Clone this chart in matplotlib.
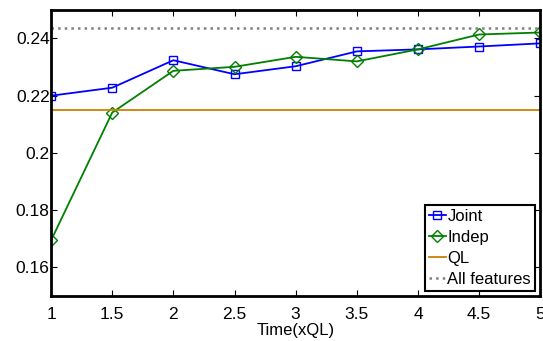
import matplotlib
matplotlib.use('Agg')
import matplotlib.pyplot as plt

plt.rcParams['font.family'] = ['Liberation Sans', 'DejaVu Sans']

times = [1, 1.5, 2, 2.5, 3, 3.5, 4, 4.5, 5]
joint = [0.2200, 0.2228, 0.2324, 0.2275, 0.2303, 0.2355, 0.2362, 0.2372, 0.2383]
indep = [0.1694, 0.2141, 0.2287, 0.2301, 0.2336, 0.2320, 0.2362, 0.2414, 0.2421]
ql = 0.2151
all_features = 0.2435

fig = plt.figure(figsize=(5.43, 3.41), dpi=100)
ax = fig.add_axes([0.094, 0.132, 0.901, 0.839])

ax.plot(times, joint, color='#0000ff', marker='s', markerfacecolor='none', markersize=6, lw=1.3, label='Joint')
ax.plot(times, indep, color='#008000', marker='D', markerfacecolor='none', markersize=6, lw=1.3, label='Indep')
ax.axhline(ql, color='#cc8000', lw=1.3, label='QL')
ax.axhline(all_features, color='#808080', ls=':', lw=1.8, label='All features')

ax.set_xlim(1, 5)
ax.set_ylim(0.15, 0.25)
ax.set_xticks([1, 1.5, 2, 2.5, 3, 3.5, 4, 4.5, 5])
ax.set_xticklabels(['1', '1.5', '2', '2.5', '3', '3.5', '4', '4.5', '5'])
ax.set_yticks([0.16, 0.18, 0.2, 0.22, 0.24])
ax.set_yticklabels(['0.16', '0.18', '0.2', '0.22', '0.24'])
ax.tick_params(direction='in', top=True, right=True, labelsize=12.5, length=4)
ax.tick_params(axis='x', pad=8)
ax.tick_params(axis='y', pad=1)
for s in ax.spines.values():
    s.set_linewidth(2)
ax.set_xlabel('Time(xQL)', fontsize=12, labelpad=1)

leg = ax.legend(loc='lower right', fontsize=12, fancybox=False, framealpha=1,
                handlelength=1.0, handletextpad=0.1, borderpad=0.25, labelspacing=0.35,
                borderaxespad=0.3, edgecolor='black')
leg.get_frame().set_linewidth(1.5)

fig.savefig('out.png', dpi=100)
